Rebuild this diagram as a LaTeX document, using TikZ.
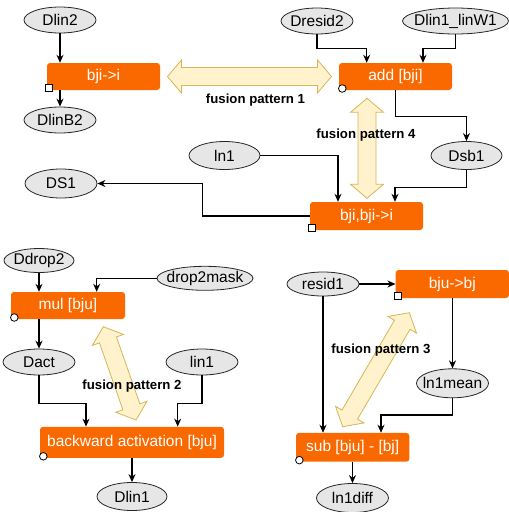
\documentclass[tikz,border=0pt]{standalone}
\usepackage{fontspec}
\setmainfont{Liberation Sans}
\usetikzlibrary{shapes.geometric,arrows.meta,calc}
\definecolor{boxorange}{HTML}{FA6800}
\definecolor{ellfill}{HTML}{E6E6E6}
\definecolor{fusfill}{HTML}{FFF2CC}
\definecolor{fusdraw}{HTML}{D6B656}
\newcommand{\fusionarrow}[2]{%
  \draw[fusion] (#1)
    -- ($(#1)!14pt!(#2)!16.5pt!90:(#2)$)
    -- ($(#1)!14pt!(#2)!9pt!90:(#2)$)
    -- ($(#2)!14pt!(#1)!9pt!-90:(#1)$)
    -- ($(#2)!14pt!(#1)!16.5pt!-90:(#1)$)
    -- (#2)
    -- ($(#2)!14pt!(#1)!16.5pt!90:(#1)$)
    -- ($(#2)!14pt!(#1)!9pt!90:(#1)$)
    -- ($(#1)!14pt!(#2)!9pt!-90:(#2)$)
    -- ($(#1)!14pt!(#2)!16.5pt!-90:(#2)$)
    -- cycle;}
\newcommand{\datanode}[5]{\node[data,minimum width=#4pt,minimum height=#5pt] (#1) at (#2) {\makebox[0pt]{#3}};}
\newcommand{\opnode}[5]{\node[opbox,minimum width=#4pt,minimum height=#5pt] (#1) at (#2) {#3};}
\begin{document}
\begin{tikzpicture}[x=1pt,y=-1pt,
  opbox/.style={rectangle, rounded corners=3pt, fill=boxorange, text=white, inner sep=0pt, font=\fontsize{15.5}{18}\selectfont},
  data/.style={ellipse, draw=black!85, line width=0.8pt, fill=ellfill, inner sep=0pt, font=\fontsize{15.5}{18}\selectfont},
  flow/.style={draw=black, line width=1.2pt, -{Stealth[length=8pt,width=7pt]}},
  fusion/.style={draw=fusdraw, fill=fusfill, line width=0.8pt, line join=miter},
  fuslabel/.style={font=\fontsize{13.2}{16}\selectfont\bfseries, inner sep=0pt},
  sqmark/.style={draw=black, fill=white, line width=0.8pt},
]
\useasboundingbox (0,0) rectangle (509,512);

% fusion arrows (behind)
\coordinate (f1a) at (167.5,76.5); \coordinate (f1b) at (331.5,76.5);
\coordinate (f4a) at (367,98.3);   \coordinate (f4b) at (367,198.3);
\coordinate (f2a) at (103.3,326.7); \coordinate (f2b) at (136,420);
\coordinate (f3a) at (409.3,312.7); \coordinate (f3b) at (342.7,426.7);
\fusionarrow{f1a}{f1b}
\fusionarrow{f4a}{f4b}
\fusionarrow{f2a}{f2b}
\fusionarrow{f3a}{f3b}

% data nodes
\datanode{Dlin2}{60,20}{Dlin2}{72}{26}
\datanode{DlinB2}{60,120}{DlinB2}{72}{26}
\datanode{Dresid2}{317,21}{Dresid2}{72}{26}
\datanode{DlinW}{455.5,21}{Dlin1\_linW1}{106}{26}
\datanode{Dsb1}{466.5,155.5}{Dsb1}{71}{28}
\datanode{ln1}{224.5,155.5}{ln1}{71}{28}
\datanode{DS1}{61,183.5}{DS1}{72}{29}
\datanode{Ddrop2}{39,260.5}{Ddrop2}{70}{24}
\datanode{drop2mask}{205,278.3}{drop2mask}{96}{24}
\datanode{Dact}{39,362}{Dact}{72}{26}
\datanode{lin1}{202,362}{lin1}{72}{26}
\datanode{Dlin1}{132,496.5}{Dlin1}{70}{28}
\datanode{resid1}{323,284}{resid1}{72}{24}
\datanode{ln1mean}{452.5,383.3}{ln1mean}{72}{29}
\datanode{ln1diff}{352.5,498}{ln1diff}{72}{29}

% operation nodes
\opnode{bjii}{103.5,76.5}{bji->i}{113}{27}
\opnode{add}{395.5,76.5}{add [bji]}{113}{27}
\opnode{bbi}{366.5,216}{bji,bji->i}{113}{28}
\opnode{mul}{68,305.5}{mul [bju]}{114}{27}
\opnode{back}{132,442.3}{backward activation [bju]}{184}{31}
\opnode{bjubj}{452.3,284}{bju->bj}{113.3}{28}
\opnode{sub}{352.7,447.3}{sub [bju] - [bj]}{113.3}{28.7}

% markers
\foreach \n in {bjii,bbi,bjubj}{
  \draw[sqmark] ([xshift=-1pt,yshift=-1pt]\n.south west) rectangle ++(7,-7);
}
\foreach \n in {add,mul,back,sub}{
  \draw[sqmark] ([xshift=3.5pt,yshift=1.7pt]\n.south west) circle[radius=3.8pt];
}

% connectors
\draw[flow] (Dlin2.south) -- (Dlin2.south |- bjii.north);
\draw[flow] (DlinB2.north |- bjii.south) -- (DlinB2.north);
\draw[flow] (Dresid2.south) -- ++(0,13.7) -| ([xshift=-28.8pt]add.north);
\draw[flow] (DlinW.south) -- ++(0,13.7) -| ([xshift=27.5pt]add.north);
\draw[flow] (add.south) -- ++(0,26) -| (Dsb1.north);
\draw[flow] (ln1.east) -| ([xshift=-28.5pt]bbi.north);
\draw[flow] (Dsb1.south) -- ++(0,17.2) -| ([xshift=28.5pt]bbi.north);
\draw[flow] (bbi.west) -- ++(-107.3,0) |- (DS1.east);

\draw[flow] (Ddrop2.south) -- (Ddrop2.south |- mul.north);
\draw[flow] (drop2mask.west) -| ([xshift=28.7pt]mul.north);
\draw[flow] (Dact.north |- mul.south) -- (Dact.north);
\draw[flow] (Dact.south) -- ++(0,27.7) -| ([xshift=-46pt]back.north);
\draw[flow] (lin1.south) -- ++(0,27.7) -| ([xshift=45.7pt]back.north);
\draw[flow] (back.south) -- (Dlin1.north);

\draw[flow] (resid1.east) -- (bjubj.west);
\draw[flow] (ln1mean.north |- bjubj.south) -- (ln1mean.north);
\draw[flow] (ln1mean.south) -- ++(0,16.7) -| ([xshift=28.3pt]sub.north);
\draw[flow] (resid1.south) -- (resid1.south |- sub.north);
\draw[flow] (ln1diff.north |- sub.south) -- (ln1diff.north);

% fusion labels
\node[fuslabel] (fl1) at (255.5,100) {fusion pattern 1};
\node[fuslabel] (fl4) at (366,135) {fusion pattern 4};
\node[fuslabel] (fl2) at (132,386) {fusion pattern 2};
\node[fuslabel] (fl3) at (381,350) {fusion pattern 3};
\end{tikzpicture}
\end{document}
